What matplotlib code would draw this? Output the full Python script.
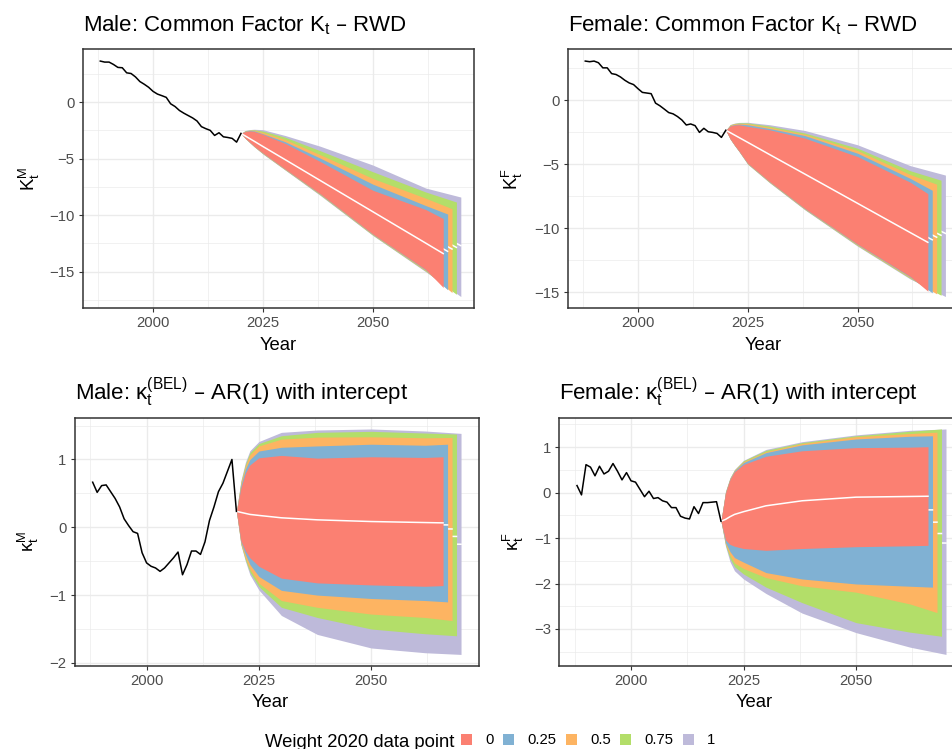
import matplotlib
matplotlib.use("Agg")
import matplotlib.pyplot as plt
from matplotlib.patches import Patch
from matplotlib.ticker import MultipleLocator, FuncFormatter

plt.rcParams['font.family'] = ['Liberation Sans', 'DejaVu Sans']

# ---- data -------------------------------------------------------------
hist_years = list(range(1988, 2021))
fan_knots = [2020, 2021, 2022, 2023, 2025, 2030, 2038, 2050, 2062]
fan_end = [2066, 2067, 2068, 2069, 2070]          # last year of each weight's fan
weights = ['0', '0.25', '0.5', '0.75', '1']
weight_colors = ['#FB8072', '#80B1D3', '#FDB462', '#B3DE69', '#BEBADA']

# Male K_t (RWD)
male_k_hist = [3.63, 3.54, 3.54, 3.33, 3.07, 3.04, 2.59, 2.53, 2.23, 1.82, 1.58,
               1.31, 0.95, 0.71, 0.57, 0.42, -0.15, -0.39, -0.74, -0.98, -1.19,
               -1.40, -1.67, -2.17, -2.35, -2.50, -2.95, -2.71, -3.07, -3.13,
               -3.21, -3.54, -2.77]
male_k_upper = [
    [-2.77, -2.60, -2.55, -2.60, -2.85, -3.65, -5.25, -7.80, -9.50, -10.30],
    [-2.77, -2.57, -2.52, -2.55, -2.80, -3.50, -4.95, -7.26, -9.15, -9.90],
    [-2.77, -2.55, -2.50, -2.50, -2.68, -3.30, -4.65, -6.76, -8.50, -9.43],
    [-2.77, -2.52, -2.47, -2.45, -2.56, -3.10, -4.30, -6.16, -7.95, -8.84],
    [-2.77, -2.50, -2.43, -2.40, -2.44, -2.95, -3.90, -5.57, -7.60, -8.40],
]
male_k_lower = [
    [-2.77, -3.20, -3.55, -3.90, -4.50, -5.90, -8.10, -11.67, -14.80, -16.40],
    [-2.77, -3.20, -3.56, -3.90, -4.52, -5.92, -8.13, -11.70, -14.85, -16.60],
    [-2.77, -3.20, -3.57, -3.92, -4.55, -5.95, -8.16, -11.73, -14.90, -16.85],
    [-2.77, -3.22, -3.58, -3.94, -4.57, -5.97, -8.20, -11.77, -14.95, -17.00],
    [-2.77, -3.22, -3.60, -3.95, -4.60, -6.00, -8.25, -11.80, -15.00, -17.20],
]
male_k_median = [
    [-2.77, -3.00, -3.23, -3.46, -3.93, -5.08, -6.93, -9.70, -12.47, -13.40],
    [-2.77, -2.99, -3.21, -3.43, -3.88, -4.99, -6.77, -9.43, -12.10, -13.20],
    [-2.77, -2.98, -3.20, -3.41, -3.84, -4.90, -6.60, -9.16, -11.72, -13.00],
    [-2.77, -2.98, -3.18, -3.38, -3.80, -4.80, -6.47, -8.94, -11.41, -12.85],
    [-2.77, -2.97, -3.17, -3.37, -3.76, -4.76, -6.35, -8.73, -11.11, -12.70],
]

# Female K_t (RWD)
female_k_hist = [3.08, 3.03, 3.08, 2.95, 2.55, 2.55, 2.10, 2.03, 1.84, 1.58, 1.37,
                 1.24, 0.92, 0.63, 0.58, 0.53, -0.21, -0.42, -0.68, -0.95, -1.05,
                 -1.26, -1.53, -1.92, -1.84, -1.97, -2.50, -2.18, -2.45, -2.50,
                 -2.58, -2.89, -2.33]
female_k_upper = [
    [-2.33, -2.00, -1.92, -1.90, -2.03, -2.30, -2.95, -4.39, -6.40, -7.29],
    [-2.33, -1.97, -1.88, -1.85, -1.90, -2.20, -2.75, -4.13, -6.10, -7.03],
    [-2.33, -1.93, -1.83, -1.80, -1.82, -2.10, -2.65, -3.92, -5.80, -6.55],
    [-2.33, -1.90, -1.80, -1.75, -1.76, -2.00, -2.55, -3.74, -5.50, -6.24],
    [-2.33, -1.88, -1.77, -1.72, -1.71, -1.90, -2.35, -3.47, -5.10, -5.84],
]
female_k_lower = [
    [-2.33, -3.00, -3.50, -3.95, -4.92, -6.35, -8.45, -11.24, -13.77, -14.92],
    [-2.33, -3.00, -3.50, -3.96, -4.94, -6.37, -8.48, -11.28, -13.82, -15.05],
    [-2.33, -3.01, -3.51, -3.97, -4.96, -6.40, -8.50, -11.32, -13.87, -15.13],
    [-2.33, -3.02, -3.52, -3.98, -4.98, -6.42, -8.53, -11.36, -13.92, -15.24],
    [-2.33, -3.03, -3.53, -4.00, -5.00, -6.45, -8.56, -11.40, -13.97, -15.34],
]
female_k_median = [
    [-2.33, -2.52, -2.71, -2.90, -3.28, -4.24, -5.76, -8.05, -10.34, -11.10],
    [-2.33, -2.51, -2.69, -2.88, -3.24, -4.15, -5.61, -7.80, -9.99, -10.90],
    [-2.33, -2.50, -2.68, -2.85, -3.20, -4.07, -5.47, -7.56, -9.66, -10.70],
    [-2.33, -2.50, -2.67, -2.83, -3.17, -4.01, -5.35, -7.36, -9.38, -10.55],
    [-2.33, -2.49, -2.65, -2.81, -3.14, -3.94, -5.23, -7.17, -9.11, -10.40],
]

# Male kappa_t^(BEL) (AR(1) with intercept)
male_kap_hist = [0.665, 0.515, 0.615, 0.625, 0.525, 0.425, 0.30, 0.125, 0.025,
                 -0.065, -0.09, -0.375, -0.525, -0.575, -0.60, -0.65, -0.60,
                 -0.525, -0.45, -0.365, -0.70, -0.55, -0.35, -0.35, -0.40,
                 -0.215, 0.10, 0.30, 0.525, 0.65, 0.825, 1.00, 0.235]
male_kap_upper = [
    [0.235, 0.58, 0.80, 0.92, 1.025, 1.06, 1.02, 1.04, 1.03, 1.04],
    [0.235, 0.62, 0.86, 1.00, 1.125, 1.18, 1.20, 1.225, 1.21, 1.225],
    [0.235, 0.65, 0.90, 1.07, 1.20, 1.30, 1.33, 1.335, 1.32, 1.325],
    [0.235, 0.67, 0.93, 1.10, 1.235, 1.35, 1.40, 1.415, 1.39, 1.375],
    [0.235, 0.69, 0.96, 1.13, 1.265, 1.40, 1.435, 1.45, 1.42, 1.385],
]
male_kap_lower = [
    [0.235, -0.20, -0.35, -0.45, -0.575, -0.75, -0.82, -0.85, -0.87, -0.86],
    [0.235, -0.22, -0.40, -0.55, -0.725, -0.93, -1.00, -1.05, -1.08, -1.10],
    [0.235, -0.24, -0.45, -0.62, -0.825, -1.08, -1.18, -1.28, -1.33, -1.375],
    [0.235, -0.25, -0.48, -0.66, -0.875, -1.18, -1.33, -1.50, -1.57, -1.60],
    [0.235, -0.26, -0.50, -0.70, -0.925, -1.30, -1.58, -1.78, -1.85, -1.875],
]
male_kap_median = [
    [0.235, 0.22, 0.205, 0.19, 0.175, 0.14, 0.11, 0.085, 0.07, 0.065],
    [0.235, 0.22, 0.20, 0.19, 0.17, 0.13, 0.09, 0.06, 0.04, 0.035],
    [0.235, 0.21, 0.19, 0.17, 0.14, 0.09, 0.04, 0.00, -0.02, -0.025],
    [0.235, 0.20, 0.17, 0.14, 0.09, 0.01, -0.06, -0.11, -0.13, -0.135],
    [0.235, 0.19, 0.15, 0.11, 0.04, -0.06, -0.16, -0.22, -0.245, -0.25],
]

# Female kappa_t^(BEL) (AR(1) with intercept)
female_kap_hist = [0.155, -0.05, 0.615, 0.56, 0.37, 0.58, 0.41, 0.47, 0.64, 0.47,
                   0.28, 0.44, 0.26, 0.23, 0.07, -0.09, 0.03, -0.13, -0.11, -0.18,
                   -0.21, -0.33, -0.33, -0.52, -0.56, -0.58, -0.31, -0.46, -0.22,
                   -0.22, -0.21, -0.20, -0.63]
female_kap_upper = [
    [-0.63, -0.01, 0.29, 0.46, 0.62, 0.80, 0.92, 0.99, 1.00, 1.01],
    [-0.63, 0.00, 0.30, 0.48, 0.66, 0.88, 1.05, 1.18, 1.24, 1.25],
    [-0.63, 0.01, 0.31, 0.49, 0.68, 0.90, 1.08, 1.23, 1.30, 1.33],
    [-0.63, 0.02, 0.32, 0.50, 0.70, 0.93, 1.10, 1.25, 1.35, 1.40],
    [-0.63, 0.03, 0.33, 0.51, 0.71, 0.95, 1.12, 1.27, 1.37, 1.40],
]
female_kap_lower = [
    [-0.63, -1.04, -1.14, -1.18, -1.23, -1.27, -1.23, -1.19, -1.17, -1.16],
    [-0.63, -1.10, -1.30, -1.43, -1.53, -1.76, -1.90, -2.01, -2.06, -2.08],
    [-0.63, -1.13, -1.38, -1.55, -1.67, -1.87, -2.05, -2.19, -2.45, -2.64],
    [-0.63, -1.15, -1.45, -1.63, -1.79, -2.08, -2.42, -2.86, -3.07, -3.16],
    [-0.63, -1.18, -1.52, -1.72, -1.90, -2.22, -2.65, -3.08, -3.40, -3.56],
]
female_kap_median = [
    [-0.63, -0.59, -0.53, -0.48, -0.42, -0.29, -0.18, -0.10, -0.085, -0.08],
    [-0.63, -0.60, -0.56, -0.52, -0.48, -0.42, -0.40, -0.39, -0.38, -0.38],
    [-0.63, -0.62, -0.61, -0.61, -0.62, -0.63, -0.64, -0.65, -0.65, -0.65],
    [-0.63, -0.65, -0.66, -0.68, -0.72, -0.79, -0.85, -0.88, -0.90, -0.90],
    [-0.63, -0.67, -0.71, -0.75, -0.81, -0.93, -1.03, -1.08, -1.10, -1.11],
]

# ---- layout (pixels of the 953x749 canvas) ---------------------------
W, H = 953, 749
TITLE_SIZE, AXIS_TITLE_SIZE, TICK_SIZE = 16, 13.3, 10.7
PANEL_W = 474 - 82.7    # visible width used to centre "Year" on cropped panels

panels = [
    dict(hist=male_k_hist, upper=male_k_upper, lower=male_k_lower, median=male_k_median,
         title=r'Male: Common Factor $\mathregular{K_t}$ – RWD',
         ylabel=r'$\mathregular{K_t^M}$', box=(82.7, 49.3, 474, 308.3),
         xlim=(1984, 2073), ystep=5, ylab_x=29),
    dict(hist=female_k_hist, upper=female_k_upper, lower=female_k_lower, median=female_k_median,
         title=r'Female: Common Factor $\mathregular{K_t}$ – RWD',
         ylabel=r'$\mathregular{K_t^F}$', box=(567.7, 49.3, 958.6, 308.3),
         xlim=(1984, 2073), ystep=5, ylab_x=512),
    dict(hist=male_kap_hist, upper=male_kap_upper, lower=male_kap_lower, median=male_kap_median,
         title=r'Male: $\mathregular{κ_t^{(BEL)}}$ – AR(1) with intercept',
         ylabel=r'$\mathregular{κ_t^M}$', box=(74.7, 417.7, 479, 665.7),
         xlim=(1984, 2074), ystep=1, ylab_x=28),
    dict(hist=female_kap_hist, upper=female_kap_upper, lower=female_kap_lower, median=female_kap_median,
         title=r'Female: $\mathregular{κ_t^{(BEL)}}$ – AR(1) with intercept',
         ylabel=r'$\mathregular{κ_t^F}$', box=(559, 417.7, 964, 665.7),
         xlim=(1984, 2074), ystep=1, ylab_x=513),
]

fig = plt.figure(figsize=(W / 100, H / 100), dpi=100)
fmt = FuncFormatter(lambda v, _: f'{v:g}'.replace('-', '\u2212'))


def draw_panel(p):
    l, t, r, b = p['box']
    ax = fig.add_axes([l / W, 1 - b / H, (r - l) / W, (b - t) / H])
    ax.plot(hist_years, p['hist'], color='black', lw=1.1, zorder=5)
    # widest weight first so the narrower fans sit on top
    for i in reversed(range(len(weights))):
        xs = fan_knots + [fan_end[i]]
        ax.fill_between(xs, p['lower'][i], p['upper'][i], color=weight_colors[i],
                        lw=0, zorder=4)
        ax.plot(xs, p['median'][i], color='white', lw=1.1, zorder=4)

    ax.margins(y=0.05)
    ax.set_xlim(*p['xlim'])
    ax.xaxis.set_major_locator(MultipleLocator(25))
    ax.xaxis.set_minor_locator(MultipleLocator(12.5))
    ax.yaxis.set_major_locator(MultipleLocator(p['ystep']))
    ax.yaxis.set_minor_locator(MultipleLocator(p['ystep'] / 2))
    ax.yaxis.set_major_formatter(fmt)
    ax.grid(which='major', color='#EBEBEB', lw=1.0)
    ax.grid(which='minor', color='#EBEBEB', lw=0.5)
    ax.set_axisbelow(True)
    ax.tick_params(which='major', length=2.9, width=0.8, color='#333333',
                   labelcolor='#4D4D4D', labelsize=TICK_SIZE, pad=3)
    ax.tick_params(which='minor', length=0)
    for s in ax.spines.values():
        s.set_color('#333333')
        s.set_linewidth(1.1)

    fig.text(l / W, 1 - (t - 17.6) / H, p['title'], fontsize=TITLE_SIZE,
             ha='left', va='baseline')
    fig.text((l + min(r, l + PANEL_W)) / 2 / W, 1 - (b + 41.7) / H, 'Year',
             fontsize=AXIS_TITLE_SIZE, ha='center', va='baseline')
    fig.text(p['ylab_x'] / W, 1 - (t + b) / 2 / H, p['ylabel'], fontsize=AXIS_TITLE_SIZE,
             rotation=90, ha='center', va='center')
    return ax


for p in panels:
    draw_panel(p)

# legend along the bottom
fig.text(265 / W, 1 - 746.7 / H, 'Weight 2020 data point', fontsize=AXIS_TITLE_SIZE,
         ha='left', va='baseline')
handles = [Patch(facecolor=c, edgecolor='none') for c in weight_colors]
fig.legend(handles, weights, ncol=len(weights), loc='center left',
           bbox_to_anchor=(461 / W, 1 - 740.5 / H), frameon=False,
           fontsize=TICK_SIZE, handlelength=0.72, handleheight=0.78,
           handletextpad=0.9, columnspacing=0.65, borderpad=0, borderaxespad=0)

fig.savefig('out.png', dpi=100)
